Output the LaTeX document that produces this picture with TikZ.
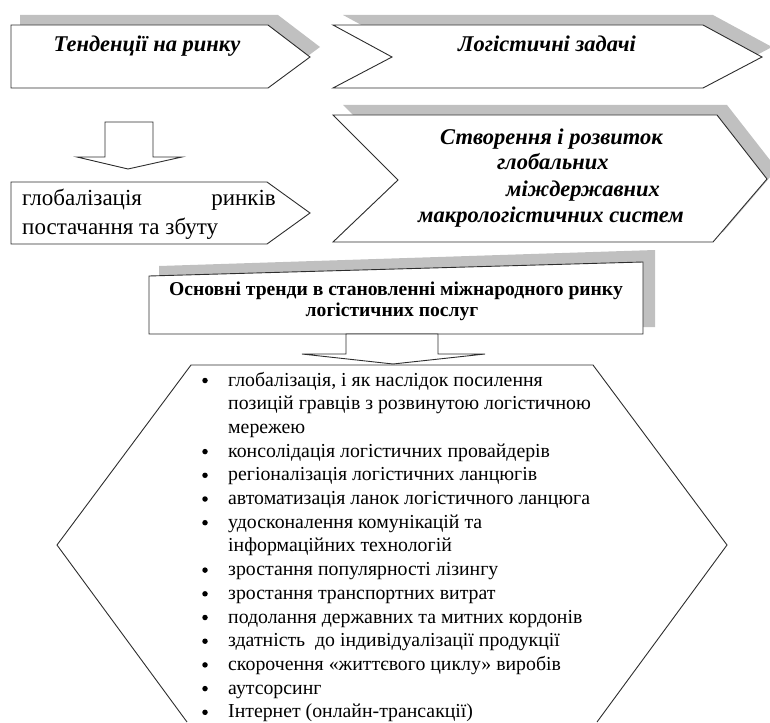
\documentclass[tikz,border=0pt]{standalone}
\usepackage{fontspec}
\setmainfont{Liberation Serif}
\definecolor{shd}{RGB}{192,192,192}
\definecolor{ln}{RGB}{45,45,45}
\begin{document}
\begin{tikzpicture}[x=1pt,y=-1pt,
  shapeline/.style={draw=ln, line width=0.9pt, fill=white, line join=miter},
  shadowfill/.style={fill=shd, draw=none},
  ttl/.style={font=\fontsize{22.5}{26}\selectfont\bfseries\itshape, inner sep=0pt},
  bodytxt/.style={font=\fontsize{19.8}{22}\selectfont, inner sep=0pt},
  globtxt/.style={font=\fontsize{23}{26}\selectfont, inner sep=0pt},
  boldtxt/.style={font=\fontsize{19.6}{22}\selectfont\bfseries, inner sep=0pt},
  bul/.style={circle, fill=black, draw=none, inner sep=0pt, minimum size=5.5pt}]
\useasboundingbox (0,0) rectangle (770,722);

% shape 1: Тенденції на ринку
\fill[shadowfill] (20,15) -- (278,15) -- (320,47) -- (278,78) -- (20,78) -- cycle;
\draw[shapeline] (11,25) -- (268,25) -- (310,57) -- (268,88) -- (11,88) -- cycle;
\node[ttl, anchor=base] (t1) at (147,52) {Тенденції на ринку};

% shape 2: Логістичні задачі
\fill[shadowfill] (343,15) -- (713,15) -- (772,47) -- (713,78) -- (402,47) -- cycle;
\draw[shapeline] (333,25) -- (703,25) -- (762,57) -- (703,88) -- (333,88) -- (392,57) -- cycle;
\node[ttl, anchor=base] (t2) at (547,52) {Логістичні задачі};

% down arrow 1
\draw[shapeline] (105,122) -- (153,122) -- (153,157) -- (182,157) -- (128,169) -- (77,157) -- (105,157) -- cycle;

% globalization box
\draw[shapeline] (11,182) -- (267,182) -- (310,213) -- (267,244) -- (11,244) -- cycle;
\node[globtxt, anchor=base west] (g1) at (22,205) {глобалізація};
\node[globtxt, anchor=base east] (g2) at (276,205) {ринків};
\node[globtxt, anchor=base west] (g3) at (22,234) {постачання та збуту};

% shape 3
\fill[shadowfill] (343,105) -- (727,105) -- (777,169) -- (723,232) -- (343,232) -- (408,170) -- cycle;
\draw[shapeline] (333,115) -- (717,115) -- (767,179) -- (713,242) -- (333,242) -- (398,180) -- cycle;
\node[ttl, anchor=base west] (s1) at (440,145) {Створення і розвиток};
\node[ttl, anchor=base west] (s2) at (497,170) {глобальних};
\node[ttl, anchor=base west] (s3) at (506,196) {міждержавних};
\node[ttl, anchor=base west] (s4) at (418,222) {макрологістичних систем};

% Основні тренди box
\fill[shadowfill] (159,266) -- (655,250) -- (655,327) -- (159,327) -- cycle;
\draw[shapeline] (149,276) -- (643,262) -- (643,334) -- (149,334) -- cycle;
\node[boldtxt, anchor=base] (o1) at (396,295) {Основні тренди в становленні міжнародного ринку};
\node[boldtxt, anchor=base] (o2) at (392,316) {логістичних послуг};

% hexagon
\draw[draw=ln, line width=0.9pt, line join=miter] (187,722) -- (57,545) -- (191,365) -- (593,365) -- (727,545) -- (597,722);

% down arrow 2
\draw[shapeline] (346,334) -- (438,334) -- (438,354) -- (485,354) -- (393,364) -- (302,354) -- (346,354) -- cycle;

% bullet list
\foreach \i/\b/\t in {
 1/1/{глобалізація, і як наслідок посилення},
 2/0/{позицій гравців з розвинутою логістичною},
 3/0/{мережею},
 4/1/{консолідація логістичних провайдерів},
 5/1/{регіоналізація логістичних ланцюгів},
 6/1/{автоматизація ланок логістичного ланцюга},
 7/1/{удосконалення комунікацій та},
 8/0/{інформаційних технологій},
 9/1/{зростання популярності лізингу},
 10/1/{зростання транспортних витрат},
 11/1/{подолання державних та митних кордонів},
 12/1/{здатність\ \ до індивідуалізації продукції},
 13/1/{скорочення «життєвого циклу» виробів},
 14/1/{аутсорсинг},
 15/1/{Інтернет (онлайн-трансакції)}}{
  \pgfmathsetmacro{\yy}{386+(\i-1)*23.7}
  \node[bodytxt, anchor=base west] (l\i) at (228,\yy) {\t};
  \ifnum\b=1
    \node[bul] (b\i) at (205,\yy-5.5) {};
  \fi
}
\end{tikzpicture}
\end{document}
